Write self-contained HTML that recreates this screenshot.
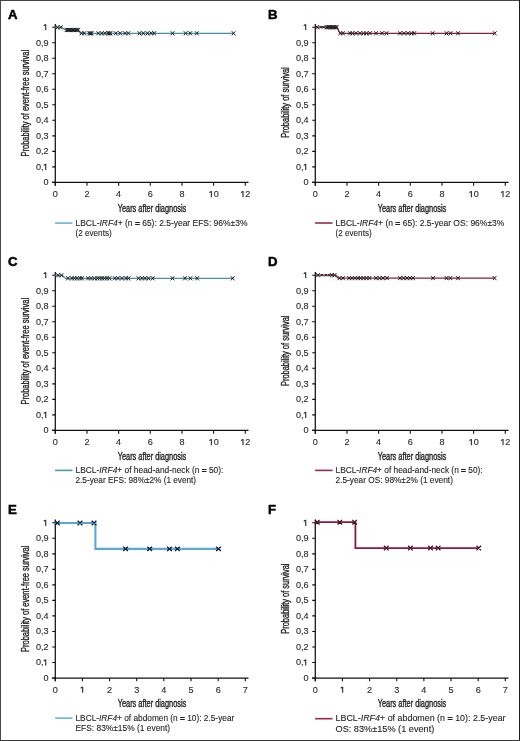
<!DOCTYPE html>
<html><head><meta charset="utf-8"><style>
html,body{margin:0;padding:0;background:#fff;}
body{width:520px;height:741px;overflow:hidden;}
svg{display:block;will-change:transform;font-family:"Liberation Sans", sans-serif;}
</style></head><body>
<svg width="520" height="741" viewBox="0 0 520 741">
<rect x="0" y="0" width="520" height="741" fill="#fff"/>
<path d="M0,0.5H520" stroke="#444" stroke-width="1"/>
<path d="M0.5,0V741" stroke="#4a4a4a" stroke-width="1"/>
<path d="M519.5,0V741" stroke="#1c1c1c" stroke-width="1"/>
<path d="M0,740.5H520" stroke="#383838" stroke-width="1"/>
<g transform="translate(0,0)">
<text x="8.1" y="18.6" font-size="13.2" font-weight="bold" fill="#000" stroke="#000" stroke-width="0.5">A</text>
<path d="M55.3,23.9V185.70000000000002M52,182.4H248.5" stroke="#111" stroke-width="1.25" fill="none"/>
<path d="M52.2,182.4H55.3M52.2,166.88H55.3M52.2,151.36H55.3M52.2,135.84H55.3M52.2,120.32H55.3M52.2,104.8H55.3M52.2,89.28H55.3M52.2,73.76H55.3M52.2,58.24H55.3M52.2,42.72H55.3M52.2,27.2H55.3M55.3,182.4V185.70000000000002M86.97,182.4V185.70000000000002M118.63,182.4V185.70000000000002M150.3,182.4V185.70000000000002M181.97,182.4V185.70000000000002M213.63,182.4V185.70000000000002M245.3,182.4V185.70000000000002" stroke="#111" stroke-width="1.1" fill="none"/>
<text x="48.6" y="185.4" font-size="9.1" text-anchor="end" fill="#2a2a2a" stroke="#2a2a2a" stroke-width="0.12">0</text>
<text x="35.95" y="169.88" font-size="9.1" fill="#2a2a2a" stroke="#2a2a2a" stroke-width="0.12">0</text>
<text x="41.01" y="169.88" font-size="9.1" fill="#2a2a2a" stroke="#2a2a2a" stroke-width="0.12">,</text>
<path d="M45.72,169.98V163.83M45.52,164.18L43.72,165.38" stroke="#2a2a2a" stroke-width="1.1" fill="none"/>
<text x="48.6" y="154.36" font-size="9.1" text-anchor="end" fill="#2a2a2a" stroke="#2a2a2a" stroke-width="0.12">0,2</text>
<text x="48.6" y="138.84" font-size="9.1" text-anchor="end" fill="#2a2a2a" stroke="#2a2a2a" stroke-width="0.12">0,3</text>
<text x="48.6" y="123.32" font-size="9.1" text-anchor="end" fill="#2a2a2a" stroke="#2a2a2a" stroke-width="0.12">0,4</text>
<text x="48.6" y="107.8" font-size="9.1" text-anchor="end" fill="#2a2a2a" stroke="#2a2a2a" stroke-width="0.12">0,5</text>
<text x="48.6" y="92.28" font-size="9.1" text-anchor="end" fill="#2a2a2a" stroke="#2a2a2a" stroke-width="0.12">0,6</text>
<text x="48.6" y="76.76" font-size="9.1" text-anchor="end" fill="#2a2a2a" stroke="#2a2a2a" stroke-width="0.12">0,7</text>
<text x="48.6" y="61.24" font-size="9.1" text-anchor="end" fill="#2a2a2a" stroke="#2a2a2a" stroke-width="0.12">0,8</text>
<text x="48.6" y="45.72" font-size="9.1" text-anchor="end" fill="#2a2a2a" stroke="#2a2a2a" stroke-width="0.12">0,9</text>
<path d="M45.72,30.3V24.15M45.52,24.5L43.72,25.7" stroke="#2a2a2a" stroke-width="1.1" fill="none"/>
<text x="55.3" y="197.1" font-size="9.1" text-anchor="middle" fill="#2a2a2a" stroke="#2a2a2a" stroke-width="0.12">0</text>
<text x="86.97" y="197.1" font-size="9.1" text-anchor="middle" fill="#2a2a2a" stroke="#2a2a2a" stroke-width="0.12">2</text>
<text x="118.63" y="197.1" font-size="9.1" text-anchor="middle" fill="#2a2a2a" stroke="#2a2a2a" stroke-width="0.12">4</text>
<text x="150.3" y="197.1" font-size="9.1" text-anchor="middle" fill="#2a2a2a" stroke="#2a2a2a" stroke-width="0.12">6</text>
<text x="181.97" y="197.1" font-size="9.1" text-anchor="middle" fill="#2a2a2a" stroke="#2a2a2a" stroke-width="0.12">8</text>
<path d="M211.35,197.2V191.05M211.15,191.4L209.35,192.6" stroke="#2a2a2a" stroke-width="1.1" fill="none"/>
<text x="213.63" y="197.1" font-size="9.1" fill="#2a2a2a" stroke="#2a2a2a" stroke-width="0.12">0</text>
<path d="M243.02,197.2V191.05M242.82,191.4L241.02,192.6" stroke="#2a2a2a" stroke-width="1.1" fill="none"/>
<text x="245.3" y="197.1" font-size="9.1" fill="#2a2a2a" stroke="#2a2a2a" stroke-width="0.12">2</text>
<text x="117.7" y="211.8" font-size="10.6" textLength="68.6" lengthAdjust="spacingAndGlyphs" fill="#222" stroke="#222" stroke-width="0.35">Years after diagnosis</text>
<text transform="translate(29.3,103.2) rotate(-90)" x="0" y="0" font-size="10.2" text-anchor="middle" textLength="106.5" lengthAdjust="spacingAndGlyphs" fill="#222" stroke="#222" stroke-width="0.35">Probability of event-free survival</text>
<path d="M55.3,27.3H61.6L65.5,30.0H78.5L80.3,33.3H233.6" stroke="#4590b0" stroke-width="1.2" fill="none" stroke-linejoin="miter"/>
<path d="M55.7,25.25L59.3,29.35M55.7,29.35L59.3,25.25M59,25.25L62.6,29.35M59,29.35L62.6,25.25M64.7,27.95L68.3,32.05M64.7,32.05L68.3,27.95M66,27.95L69.6,32.05M66,32.05L69.6,27.95M67.3,27.95L70.9,32.05M67.3,32.05L70.9,27.95M68.6,27.95L72.2,32.05M68.6,32.05L72.2,27.95M69.9,27.95L73.5,32.05M69.9,32.05L73.5,27.95M71.2,27.95L74.8,32.05M71.2,32.05L74.8,27.95M72.5,27.95L76.1,32.05M72.5,32.05L76.1,27.95M73.8,27.95L77.4,32.05M73.8,32.05L77.4,27.95M75.1,27.95L78.7,32.05M75.1,32.05L78.7,27.95M76.5,27.95L80.1,32.05M76.5,32.05L80.1,27.95M79.7,31.25L83.3,35.35M79.7,35.35L83.3,31.25M82.4,31.25L86,35.35M82.4,35.35L86,31.25M87.5,31.25L91.1,35.35M87.5,35.35L91.1,31.25M88.7,31.25L92.3,35.35M88.7,35.35L92.3,31.25M89.8,31.25L93.4,35.35M89.8,35.35L93.4,31.25M96.5,31.25L100.1,35.35M96.5,35.35L100.1,31.25M100,31.25L103.6,35.35M100,35.35L103.6,31.25M103.2,31.25L106.8,35.35M103.2,35.35L106.8,31.25M106.2,31.25L109.8,35.35M106.2,35.35L109.8,31.25M107.5,31.25L111.1,35.35M107.5,35.35L111.1,31.25M108.7,31.25L112.3,35.35M108.7,35.35L112.3,31.25M114,31.25L117.6,35.35M114,35.35L117.6,31.25M118.4,31.25L122,35.35M118.4,35.35L122,31.25M123.2,31.25L126.8,35.35M123.2,35.35L126.8,31.25M126.5,31.25L130.1,35.35M126.5,35.35L130.1,31.25M137.7,31.25L141.3,35.35M137.7,35.35L141.3,31.25M141.5,31.25L145.1,35.35M141.5,35.35L145.1,31.25M145.7,31.25L149.3,35.35M145.7,35.35L149.3,31.25M149.4,31.25L153,35.35M149.4,35.35L153,31.25M152.4,31.25L156,35.35M152.4,35.35L156,31.25M170.7,31.25L174.3,35.35M170.7,35.35L174.3,31.25M183.8,31.25L187.4,35.35M183.8,35.35L187.4,31.25M188.4,31.25L192,35.35M188.4,35.35L192,31.25M195,31.25L198.6,35.35M195,35.35L198.6,31.25M231.8,31.25L235.4,35.35M231.8,35.35L235.4,31.25" stroke="#1e1e1e" stroke-width="1.0" fill="none"/>
<path d="M55.1,223.1H72.5" stroke="#6cb2d8" stroke-width="1.6"/>
<text x="75.5" y="225.7" font-size="8.7" textLength="171.9" lengthAdjust="spacingAndGlyphs" fill="#222" stroke="#222" stroke-width="0.1">LBCL-<tspan font-style="italic">IRF4</tspan>+ (n <tspan stroke-width="0.55">=</tspan> 65): 2.5-year EFS: 96%±3%</text>
<text x="75.5" y="235.6" font-size="8.7" textLength="36.2" lengthAdjust="spacingAndGlyphs" fill="#222" stroke="#222" stroke-width="0.1">(2 events)</text>
</g>
<g transform="translate(260,0)">
<text x="8.1" y="18.6" font-size="13.2" font-weight="bold" fill="#000" stroke="#000" stroke-width="0.5">B</text>
<path d="M55.3,23.9V185.70000000000002M52,182.4H248.5" stroke="#111" stroke-width="1.25" fill="none"/>
<path d="M52.2,182.4H55.3M52.2,166.88H55.3M52.2,151.36H55.3M52.2,135.84H55.3M52.2,120.32H55.3M52.2,104.8H55.3M52.2,89.28H55.3M52.2,73.76H55.3M52.2,58.24H55.3M52.2,42.72H55.3M52.2,27.2H55.3M55.3,182.4V185.70000000000002M86.97,182.4V185.70000000000002M118.63,182.4V185.70000000000002M150.3,182.4V185.70000000000002M181.97,182.4V185.70000000000002M213.63,182.4V185.70000000000002M245.3,182.4V185.70000000000002" stroke="#111" stroke-width="1.1" fill="none"/>
<text x="48.6" y="185.4" font-size="9.1" text-anchor="end" fill="#2a2a2a" stroke="#2a2a2a" stroke-width="0.12">0</text>
<text x="35.95" y="169.88" font-size="9.1" fill="#2a2a2a" stroke="#2a2a2a" stroke-width="0.12">0</text>
<text x="41.01" y="169.88" font-size="9.1" fill="#2a2a2a" stroke="#2a2a2a" stroke-width="0.12">,</text>
<path d="M45.72,169.98V163.83M45.52,164.18L43.72,165.38" stroke="#2a2a2a" stroke-width="1.1" fill="none"/>
<text x="48.6" y="154.36" font-size="9.1" text-anchor="end" fill="#2a2a2a" stroke="#2a2a2a" stroke-width="0.12">0,2</text>
<text x="48.6" y="138.84" font-size="9.1" text-anchor="end" fill="#2a2a2a" stroke="#2a2a2a" stroke-width="0.12">0,3</text>
<text x="48.6" y="123.32" font-size="9.1" text-anchor="end" fill="#2a2a2a" stroke="#2a2a2a" stroke-width="0.12">0,4</text>
<text x="48.6" y="107.8" font-size="9.1" text-anchor="end" fill="#2a2a2a" stroke="#2a2a2a" stroke-width="0.12">0,5</text>
<text x="48.6" y="92.28" font-size="9.1" text-anchor="end" fill="#2a2a2a" stroke="#2a2a2a" stroke-width="0.12">0,6</text>
<text x="48.6" y="76.76" font-size="9.1" text-anchor="end" fill="#2a2a2a" stroke="#2a2a2a" stroke-width="0.12">0,7</text>
<text x="48.6" y="61.24" font-size="9.1" text-anchor="end" fill="#2a2a2a" stroke="#2a2a2a" stroke-width="0.12">0,8</text>
<text x="48.6" y="45.72" font-size="9.1" text-anchor="end" fill="#2a2a2a" stroke="#2a2a2a" stroke-width="0.12">0,9</text>
<path d="M45.72,30.3V24.15M45.52,24.5L43.72,25.7" stroke="#2a2a2a" stroke-width="1.1" fill="none"/>
<text x="55.3" y="197.1" font-size="9.1" text-anchor="middle" fill="#2a2a2a" stroke="#2a2a2a" stroke-width="0.12">0</text>
<text x="86.97" y="197.1" font-size="9.1" text-anchor="middle" fill="#2a2a2a" stroke="#2a2a2a" stroke-width="0.12">2</text>
<text x="118.63" y="197.1" font-size="9.1" text-anchor="middle" fill="#2a2a2a" stroke="#2a2a2a" stroke-width="0.12">4</text>
<text x="150.3" y="197.1" font-size="9.1" text-anchor="middle" fill="#2a2a2a" stroke="#2a2a2a" stroke-width="0.12">6</text>
<text x="181.97" y="197.1" font-size="9.1" text-anchor="middle" fill="#2a2a2a" stroke="#2a2a2a" stroke-width="0.12">8</text>
<path d="M211.35,197.2V191.05M211.15,191.4L209.35,192.6" stroke="#2a2a2a" stroke-width="1.1" fill="none"/>
<text x="213.63" y="197.1" font-size="9.1" fill="#2a2a2a" stroke="#2a2a2a" stroke-width="0.12">0</text>
<path d="M243.02,197.2V191.05M242.82,191.4L241.02,192.6" stroke="#2a2a2a" stroke-width="1.1" fill="none"/>
<text x="245.3" y="197.1" font-size="9.1" fill="#2a2a2a" stroke="#2a2a2a" stroke-width="0.12">2</text>
<text x="117.7" y="211.8" font-size="10.6" textLength="68.6" lengthAdjust="spacingAndGlyphs" fill="#222" stroke="#222" stroke-width="0.35">Years after diagnosis</text>
<text transform="translate(29.3,102.5) rotate(-90)" x="0" y="0" font-size="10.2" text-anchor="middle" textLength="70.5" lengthAdjust="spacingAndGlyphs" fill="#222" stroke="#222" stroke-width="0.35">Probability of survival</text>
<path d="M55.3,27.2H77L80,33.3H234.8" stroke="#8a1f3c" stroke-width="1.2" fill="none" stroke-linejoin="miter"/>
<path d="M55.4,25.15L59,29.25M55.4,29.25L59,25.15M59.72,25.97L61.88,28.43M59.72,28.43L61.88,25.97M62.42,25.97L64.58,28.43M62.42,28.43L64.58,25.97M64.7,25.15L68.3,29.25M64.7,29.25L68.3,25.15M66,25.15L69.6,29.25M66,29.25L69.6,25.15M67.3,25.15L70.9,29.25M67.3,29.25L70.9,25.15M68.6,25.15L72.2,29.25M68.6,29.25L72.2,25.15M69.9,25.15L73.5,29.25M69.9,29.25L73.5,25.15M71.2,25.15L74.8,29.25M71.2,29.25L74.8,25.15M72.5,25.15L76.1,29.25M72.5,29.25L76.1,25.15M73.8,25.15L77.4,29.25M73.8,29.25L77.4,25.15M74.8,25.15L78.4,29.25M74.8,29.25L78.4,25.15M78.5,31.25L82.1,35.35M78.5,35.35L82.1,31.25M81.2,31.25L84.8,35.35M81.2,35.35L84.8,31.25M88.2,31.25L91.8,35.35M88.2,35.35L91.8,31.25M90.7,31.25L94.3,35.35M90.7,35.35L94.3,31.25M94.2,31.25L97.8,35.35M94.2,35.35L97.8,31.25M98.2,31.25L101.8,35.35M98.2,35.35L101.8,31.25M101.7,31.25L105.3,35.35M101.7,35.35L105.3,31.25M104.7,31.25L108.3,35.35M104.7,35.35L108.3,31.25M108.2,31.25L111.8,35.35M108.2,35.35L111.8,31.25M114.2,31.25L117.8,35.35M114.2,35.35L117.8,31.25M120.2,31.25L123.8,35.35M120.2,35.35L123.8,31.25M124.7,31.25L128.3,35.35M124.7,35.35L128.3,31.25M138.2,31.25L141.8,35.35M138.2,35.35L141.8,31.25M142.2,31.25L145.8,35.35M142.2,35.35L145.8,31.25M146.2,31.25L149.8,35.35M146.2,35.35L149.8,31.25M149.7,31.25L153.3,35.35M149.7,35.35L153.3,31.25M152.4,31.25L156,35.35M152.4,35.35L156,31.25M170.9,31.25L174.5,35.35M170.9,35.35L174.5,31.25M184.7,31.25L188.3,35.35M184.7,35.35L188.3,31.25M188.8,31.25L192.4,35.35M188.8,35.35L192.4,31.25M196.2,31.25L199.8,35.35M196.2,35.35L199.8,31.25M233,31.25L236.6,35.35M233,35.35L236.6,31.25" stroke="#1e1e1e" stroke-width="1.0" fill="none"/>
<path d="M55.1,223.0H72.5" stroke="#9a2848" stroke-width="1.6"/>
<text x="75.5" y="225.8" font-size="8.7" textLength="168.9" lengthAdjust="spacingAndGlyphs" fill="#222" stroke="#222" stroke-width="0.1">LBCL-<tspan font-style="italic">IRF4</tspan>+ (n <tspan stroke-width="0.55">=</tspan> 65): 2.5-year OS: 96%±3%</text>
<text x="75.5" y="235.6" font-size="8.7" textLength="36.2" lengthAdjust="spacingAndGlyphs" fill="#222" stroke="#222" stroke-width="0.1">(2 events)</text>
</g>
<g transform="translate(0,248)">
<text x="8.1" y="17.9" font-size="13.2" font-weight="bold" fill="#000" stroke="#000" stroke-width="0.5">C</text>
<path d="M55.3,23.9V185.70000000000002M52,182.4H248.5" stroke="#111" stroke-width="1.25" fill="none"/>
<path d="M52.2,182.4H55.3M52.2,166.88H55.3M52.2,151.36H55.3M52.2,135.84H55.3M52.2,120.32H55.3M52.2,104.8H55.3M52.2,89.28H55.3M52.2,73.76H55.3M52.2,58.24H55.3M52.2,42.72H55.3M52.2,27.2H55.3M55.3,182.4V185.70000000000002M86.97,182.4V185.70000000000002M118.63,182.4V185.70000000000002M150.3,182.4V185.70000000000002M181.97,182.4V185.70000000000002M213.63,182.4V185.70000000000002M245.3,182.4V185.70000000000002" stroke="#111" stroke-width="1.1" fill="none"/>
<text x="48.6" y="185.4" font-size="9.1" text-anchor="end" fill="#2a2a2a" stroke="#2a2a2a" stroke-width="0.12">0</text>
<text x="35.95" y="169.88" font-size="9.1" fill="#2a2a2a" stroke="#2a2a2a" stroke-width="0.12">0</text>
<text x="41.01" y="169.88" font-size="9.1" fill="#2a2a2a" stroke="#2a2a2a" stroke-width="0.12">,</text>
<path d="M45.72,169.98V163.83M45.52,164.18L43.72,165.38" stroke="#2a2a2a" stroke-width="1.1" fill="none"/>
<text x="48.6" y="154.36" font-size="9.1" text-anchor="end" fill="#2a2a2a" stroke="#2a2a2a" stroke-width="0.12">0,2</text>
<text x="48.6" y="138.84" font-size="9.1" text-anchor="end" fill="#2a2a2a" stroke="#2a2a2a" stroke-width="0.12">0,3</text>
<text x="48.6" y="123.32" font-size="9.1" text-anchor="end" fill="#2a2a2a" stroke="#2a2a2a" stroke-width="0.12">0,4</text>
<text x="48.6" y="107.8" font-size="9.1" text-anchor="end" fill="#2a2a2a" stroke="#2a2a2a" stroke-width="0.12">0,5</text>
<text x="48.6" y="92.28" font-size="9.1" text-anchor="end" fill="#2a2a2a" stroke="#2a2a2a" stroke-width="0.12">0,6</text>
<text x="48.6" y="76.76" font-size="9.1" text-anchor="end" fill="#2a2a2a" stroke="#2a2a2a" stroke-width="0.12">0,7</text>
<text x="48.6" y="61.24" font-size="9.1" text-anchor="end" fill="#2a2a2a" stroke="#2a2a2a" stroke-width="0.12">0,8</text>
<text x="48.6" y="45.72" font-size="9.1" text-anchor="end" fill="#2a2a2a" stroke="#2a2a2a" stroke-width="0.12">0,9</text>
<path d="M45.72,30.3V24.15M45.52,24.5L43.72,25.7" stroke="#2a2a2a" stroke-width="1.1" fill="none"/>
<text x="55.3" y="197.1" font-size="9.1" text-anchor="middle" fill="#2a2a2a" stroke="#2a2a2a" stroke-width="0.12">0</text>
<text x="86.97" y="197.1" font-size="9.1" text-anchor="middle" fill="#2a2a2a" stroke="#2a2a2a" stroke-width="0.12">2</text>
<text x="118.63" y="197.1" font-size="9.1" text-anchor="middle" fill="#2a2a2a" stroke="#2a2a2a" stroke-width="0.12">4</text>
<text x="150.3" y="197.1" font-size="9.1" text-anchor="middle" fill="#2a2a2a" stroke="#2a2a2a" stroke-width="0.12">6</text>
<text x="181.97" y="197.1" font-size="9.1" text-anchor="middle" fill="#2a2a2a" stroke="#2a2a2a" stroke-width="0.12">8</text>
<path d="M211.35,197.2V191.05M211.15,191.4L209.35,192.6" stroke="#2a2a2a" stroke-width="1.1" fill="none"/>
<text x="213.63" y="197.1" font-size="9.1" fill="#2a2a2a" stroke="#2a2a2a" stroke-width="0.12">0</text>
<path d="M243.02,197.2V191.05M242.82,191.4L241.02,192.6" stroke="#2a2a2a" stroke-width="1.1" fill="none"/>
<text x="245.3" y="197.1" font-size="9.1" fill="#2a2a2a" stroke="#2a2a2a" stroke-width="0.12">2</text>
<text x="117.7" y="211.8" font-size="10.6" textLength="68.6" lengthAdjust="spacingAndGlyphs" fill="#222" stroke="#222" stroke-width="0.35">Years after diagnosis</text>
<text transform="translate(29.3,103.2) rotate(-90)" x="0" y="0" font-size="10.2" text-anchor="middle" textLength="106.5" lengthAdjust="spacingAndGlyphs" fill="#222" stroke="#222" stroke-width="0.35">Probability of event-free survival</text>
<path d="M55.3,27.3H62.5L65.5,30.3H232.7" stroke="#4590b0" stroke-width="1.2" fill="none" stroke-linejoin="miter"/>
<path d="M56.2,25.25L59.8,29.35M56.2,29.35L59.8,25.25M59.7,25.25L63.3,29.35M59.7,29.35L63.3,25.25M66.2,28.25L69.8,32.35M66.2,32.35L69.8,28.25M70.2,28.25L73.8,32.35M70.2,32.35L73.8,28.25M72.7,28.25L76.3,32.35M72.7,32.35L76.3,28.25M75.2,28.25L78.8,32.35M75.2,32.35L78.8,28.25M78.2,28.25L81.8,32.35M78.2,32.35L81.8,28.25M80.2,28.25L83.8,32.35M80.2,32.35L83.8,28.25M86.2,28.25L89.8,32.35M86.2,32.35L89.8,28.25M89.2,28.25L92.8,32.35M89.2,32.35L92.8,28.25M92.7,28.25L96.3,32.35M92.7,32.35L96.3,28.25M95.7,28.25L99.3,32.35M95.7,32.35L99.3,28.25M97.7,28.25L101.3,32.35M97.7,32.35L101.3,28.25M100.2,28.25L103.8,32.35M100.2,32.35L103.8,28.25M102.7,28.25L106.3,32.35M102.7,32.35L106.3,28.25M105.2,28.25L108.8,32.35M105.2,32.35L108.8,28.25M107.7,28.25L111.3,32.35M107.7,32.35L111.3,28.25M113,28.25L116.6,32.35M113,32.35L116.6,28.25M116.2,28.25L119.8,32.35M116.2,32.35L119.8,28.25M120.2,28.25L123.8,32.35M120.2,32.35L123.8,28.25M124.2,28.25L127.8,32.35M124.2,32.35L127.8,28.25M126.7,28.25L130.3,32.35M126.7,32.35L130.3,28.25M136.7,28.25L140.3,32.35M136.7,32.35L140.3,28.25M140.2,28.25L143.8,32.35M140.2,32.35L143.8,28.25M143.2,28.25L146.8,32.35M143.2,32.35L146.8,28.25M146.7,28.25L150.3,32.35M146.7,32.35L150.3,28.25M151,28.25L154.6,32.35M151,32.35L154.6,28.25M170.7,28.25L174.3,32.35M170.7,32.35L174.3,28.25M183.2,28.25L186.8,32.35M183.2,32.35L186.8,28.25M188.6,28.25L192.2,32.35M188.6,32.35L192.2,28.25M195.3,28.25L198.9,32.35M195.3,32.35L198.9,28.25M230.9,28.25L234.5,32.35M230.9,32.35L234.5,28.25" stroke="#1e1e1e" stroke-width="1.0" fill="none"/>
<path d="M55.1,222.4H72.5" stroke="#4a9cb2" stroke-width="1.6"/>
<text x="75.5" y="224.9" font-size="8.7" textLength="147.9" lengthAdjust="spacingAndGlyphs" fill="#222" stroke="#222" stroke-width="0.1">LBCL-<tspan font-style="italic">IRF4</tspan>+ of head-and-neck (n <tspan stroke-width="0.55">=</tspan> 50):</text>
<text x="75.5" y="235.2" font-size="8.7" textLength="120.6" lengthAdjust="spacingAndGlyphs" fill="#222" stroke="#222" stroke-width="0.1">2.5-year EFS: 98%±2% (1 event)</text>
</g>
<g transform="translate(260,248)">
<text x="8.1" y="17.9" font-size="13.2" font-weight="bold" fill="#000" stroke="#000" stroke-width="0.5">D</text>
<path d="M55.3,23.9V185.70000000000002M52,182.4H248.5" stroke="#111" stroke-width="1.25" fill="none"/>
<path d="M52.2,182.4H55.3M52.2,166.88H55.3M52.2,151.36H55.3M52.2,135.84H55.3M52.2,120.32H55.3M52.2,104.8H55.3M52.2,89.28H55.3M52.2,73.76H55.3M52.2,58.24H55.3M52.2,42.72H55.3M52.2,27.2H55.3M55.3,182.4V185.70000000000002M86.97,182.4V185.70000000000002M118.63,182.4V185.70000000000002M150.3,182.4V185.70000000000002M181.97,182.4V185.70000000000002M213.63,182.4V185.70000000000002M245.3,182.4V185.70000000000002" stroke="#111" stroke-width="1.1" fill="none"/>
<text x="48.6" y="185.4" font-size="9.1" text-anchor="end" fill="#2a2a2a" stroke="#2a2a2a" stroke-width="0.12">0</text>
<text x="35.95" y="169.88" font-size="9.1" fill="#2a2a2a" stroke="#2a2a2a" stroke-width="0.12">0</text>
<text x="41.01" y="169.88" font-size="9.1" fill="#2a2a2a" stroke="#2a2a2a" stroke-width="0.12">,</text>
<path d="M45.72,169.98V163.83M45.52,164.18L43.72,165.38" stroke="#2a2a2a" stroke-width="1.1" fill="none"/>
<text x="48.6" y="154.36" font-size="9.1" text-anchor="end" fill="#2a2a2a" stroke="#2a2a2a" stroke-width="0.12">0,2</text>
<text x="48.6" y="138.84" font-size="9.1" text-anchor="end" fill="#2a2a2a" stroke="#2a2a2a" stroke-width="0.12">0,3</text>
<text x="48.6" y="123.32" font-size="9.1" text-anchor="end" fill="#2a2a2a" stroke="#2a2a2a" stroke-width="0.12">0,4</text>
<text x="48.6" y="107.8" font-size="9.1" text-anchor="end" fill="#2a2a2a" stroke="#2a2a2a" stroke-width="0.12">0,5</text>
<text x="48.6" y="92.28" font-size="9.1" text-anchor="end" fill="#2a2a2a" stroke="#2a2a2a" stroke-width="0.12">0,6</text>
<text x="48.6" y="76.76" font-size="9.1" text-anchor="end" fill="#2a2a2a" stroke="#2a2a2a" stroke-width="0.12">0,7</text>
<text x="48.6" y="61.24" font-size="9.1" text-anchor="end" fill="#2a2a2a" stroke="#2a2a2a" stroke-width="0.12">0,8</text>
<text x="48.6" y="45.72" font-size="9.1" text-anchor="end" fill="#2a2a2a" stroke="#2a2a2a" stroke-width="0.12">0,9</text>
<path d="M45.72,30.3V24.15M45.52,24.5L43.72,25.7" stroke="#2a2a2a" stroke-width="1.1" fill="none"/>
<text x="55.3" y="197.1" font-size="9.1" text-anchor="middle" fill="#2a2a2a" stroke="#2a2a2a" stroke-width="0.12">0</text>
<text x="86.97" y="197.1" font-size="9.1" text-anchor="middle" fill="#2a2a2a" stroke="#2a2a2a" stroke-width="0.12">2</text>
<text x="118.63" y="197.1" font-size="9.1" text-anchor="middle" fill="#2a2a2a" stroke="#2a2a2a" stroke-width="0.12">4</text>
<text x="150.3" y="197.1" font-size="9.1" text-anchor="middle" fill="#2a2a2a" stroke="#2a2a2a" stroke-width="0.12">6</text>
<text x="181.97" y="197.1" font-size="9.1" text-anchor="middle" fill="#2a2a2a" stroke="#2a2a2a" stroke-width="0.12">8</text>
<path d="M211.35,197.2V191.05M211.15,191.4L209.35,192.6" stroke="#2a2a2a" stroke-width="1.1" fill="none"/>
<text x="213.63" y="197.1" font-size="9.1" fill="#2a2a2a" stroke="#2a2a2a" stroke-width="0.12">0</text>
<path d="M243.02,197.2V191.05M242.82,191.4L241.02,192.6" stroke="#2a2a2a" stroke-width="1.1" fill="none"/>
<text x="245.3" y="197.1" font-size="9.1" fill="#2a2a2a" stroke="#2a2a2a" stroke-width="0.12">2</text>
<text x="117.7" y="211.8" font-size="10.6" textLength="68.6" lengthAdjust="spacingAndGlyphs" fill="#222" stroke="#222" stroke-width="0.35">Years after diagnosis</text>
<text transform="translate(29.3,102.8) rotate(-90)" x="0" y="0" font-size="10.2" text-anchor="middle" textLength="70.5" lengthAdjust="spacingAndGlyphs" fill="#222" stroke="#222" stroke-width="0.35">Probability of survival</text>
<path d="M55.3,27.2H76L78,30.1H234.6" stroke="#8a1f3c" stroke-width="1.2" fill="none" stroke-linejoin="miter"/>
<path d="M56.2,25.15L59.8,29.25M56.2,29.25L59.8,25.15M60.72,25.97L62.88,28.43M60.72,28.43L62.88,25.97M64.72,25.97L66.88,28.43M64.72,28.43L66.88,25.97M68.22,25.97L70.38,28.43M68.22,28.43L70.38,25.97M70.2,25.15L73.8,29.25M70.2,29.25L73.8,25.15M72.7,25.15L76.3,29.25M72.7,29.25L76.3,25.15M77.7,28.05L81.3,32.15M77.7,32.15L81.3,28.05M81.2,28.05L84.8,32.15M81.2,32.15L84.8,28.05M87.2,28.05L90.8,32.15M87.2,32.15L90.8,28.05M90.2,28.05L93.8,32.15M90.2,32.15L93.8,28.05M93.2,28.05L96.8,32.15M93.2,32.15L96.8,28.05M96.2,28.05L99.8,32.15M96.2,32.15L99.8,28.05M98.7,28.05L102.3,32.15M98.7,32.15L102.3,28.05M101.7,28.05L105.3,32.15M101.7,32.15L105.3,28.05M104.7,28.05L108.3,32.15M104.7,32.15L108.3,28.05M107.7,28.05L111.3,32.15M107.7,32.15L111.3,28.05M114.2,28.05L117.8,32.15M114.2,32.15L117.8,28.05M117.7,28.05L121.3,32.15M117.7,32.15L121.3,28.05M121.2,28.05L124.8,32.15M121.2,32.15L124.8,28.05M125.2,28.05L128.8,32.15M125.2,32.15L128.8,28.05M138.2,28.05L141.8,32.15M138.2,32.15L141.8,28.05M141.7,28.05L145.3,32.15M141.7,32.15L145.3,28.05M145.2,28.05L148.8,32.15M145.2,32.15L148.8,28.05M148.2,28.05L151.8,32.15M148.2,32.15L151.8,28.05M151.2,28.05L154.8,32.15M151.2,32.15L154.8,28.05M171.2,28.05L174.8,32.15M171.2,32.15L174.8,28.05M184.7,28.05L188.3,32.15M184.7,32.15L188.3,28.05M188.6,28.05L192.2,32.15M188.6,32.15L192.2,28.05M196.2,28.05L199.8,32.15M196.2,32.15L199.8,28.05M232.8,28.05L236.4,32.15M232.8,32.15L236.4,28.05" stroke="#1e1e1e" stroke-width="1.0" fill="none"/>
<path d="M55.1,222.4H72.5" stroke="#9a2848" stroke-width="1.6"/>
<text x="75.5" y="224.9" font-size="8.7" textLength="147.1" lengthAdjust="spacingAndGlyphs" fill="#222" stroke="#222" stroke-width="0.1">LBCL-<tspan font-style="italic">IRF4</tspan>+ of head-and-neck (n <tspan stroke-width="0.55">=</tspan> 50):</text>
<text x="75.5" y="235.2" font-size="8.7" textLength="117.39999999999999" lengthAdjust="spacingAndGlyphs" fill="#222" stroke="#222" stroke-width="0.1">2.5-year OS: 98%±2% (1 event)</text>
</g>
<g transform="translate(0,495.6)">
<text x="8.1" y="18.6" font-size="13.2" font-weight="bold" fill="#000" stroke="#000" stroke-width="0.5">E</text>
<path d="M55.3,23.9V185.70000000000002M52,182.4H248.5" stroke="#111" stroke-width="1.25" fill="none"/>
<path d="M52.2,182.4H55.3M52.2,166.88H55.3M52.2,151.36H55.3M52.2,135.84H55.3M52.2,120.32H55.3M52.2,104.8H55.3M52.2,89.28H55.3M52.2,73.76H55.3M52.2,58.24H55.3M52.2,42.72H55.3M52.2,27.2H55.3M55.3,182.4V185.70000000000002M82.44,182.4V185.70000000000002M109.59,182.4V185.70000000000002M136.73,182.4V185.70000000000002M163.87,182.4V185.70000000000002M191.01,182.4V185.70000000000002M218.16,182.4V185.70000000000002M245.3,182.4V185.70000000000002" stroke="#111" stroke-width="1.1" fill="none"/>
<text x="48.6" y="185.4" font-size="9.1" text-anchor="end" fill="#2a2a2a" stroke="#2a2a2a" stroke-width="0.12">0</text>
<text x="35.95" y="169.88" font-size="9.1" fill="#2a2a2a" stroke="#2a2a2a" stroke-width="0.12">0</text>
<text x="41.01" y="169.88" font-size="9.1" fill="#2a2a2a" stroke="#2a2a2a" stroke-width="0.12">,</text>
<path d="M45.72,169.98V163.83M45.52,164.18L43.72,165.38" stroke="#2a2a2a" stroke-width="1.1" fill="none"/>
<text x="48.6" y="154.36" font-size="9.1" text-anchor="end" fill="#2a2a2a" stroke="#2a2a2a" stroke-width="0.12">0,2</text>
<text x="48.6" y="138.84" font-size="9.1" text-anchor="end" fill="#2a2a2a" stroke="#2a2a2a" stroke-width="0.12">0,3</text>
<text x="48.6" y="123.32" font-size="9.1" text-anchor="end" fill="#2a2a2a" stroke="#2a2a2a" stroke-width="0.12">0,4</text>
<text x="48.6" y="107.8" font-size="9.1" text-anchor="end" fill="#2a2a2a" stroke="#2a2a2a" stroke-width="0.12">0,5</text>
<text x="48.6" y="92.28" font-size="9.1" text-anchor="end" fill="#2a2a2a" stroke="#2a2a2a" stroke-width="0.12">0,6</text>
<text x="48.6" y="76.76" font-size="9.1" text-anchor="end" fill="#2a2a2a" stroke="#2a2a2a" stroke-width="0.12">0,7</text>
<text x="48.6" y="61.24" font-size="9.1" text-anchor="end" fill="#2a2a2a" stroke="#2a2a2a" stroke-width="0.12">0,8</text>
<text x="48.6" y="45.72" font-size="9.1" text-anchor="end" fill="#2a2a2a" stroke="#2a2a2a" stroke-width="0.12">0,9</text>
<path d="M45.72,30.3V24.15M45.52,24.5L43.72,25.7" stroke="#2a2a2a" stroke-width="1.1" fill="none"/>
<text x="55.3" y="197.1" font-size="9.1" text-anchor="middle" fill="#2a2a2a" stroke="#2a2a2a" stroke-width="0.12">0</text>
<path d="M82.69,197.2V191.05M82.49,191.4L80.69,192.6" stroke="#2a2a2a" stroke-width="1.1" fill="none"/>
<text x="109.59" y="197.1" font-size="9.1" text-anchor="middle" fill="#2a2a2a" stroke="#2a2a2a" stroke-width="0.12">2</text>
<text x="136.73" y="197.1" font-size="9.1" text-anchor="middle" fill="#2a2a2a" stroke="#2a2a2a" stroke-width="0.12">3</text>
<text x="163.87" y="197.1" font-size="9.1" text-anchor="middle" fill="#2a2a2a" stroke="#2a2a2a" stroke-width="0.12">4</text>
<text x="191.01" y="197.1" font-size="9.1" text-anchor="middle" fill="#2a2a2a" stroke="#2a2a2a" stroke-width="0.12">5</text>
<text x="218.16" y="197.1" font-size="9.1" text-anchor="middle" fill="#2a2a2a" stroke="#2a2a2a" stroke-width="0.12">6</text>
<text x="245.3" y="197.1" font-size="9.1" text-anchor="middle" fill="#2a2a2a" stroke="#2a2a2a" stroke-width="0.12">7</text>
<text x="117.7" y="211.8" font-size="10.6" textLength="68.6" lengthAdjust="spacingAndGlyphs" fill="#222" stroke="#222" stroke-width="0.35">Years after diagnosis</text>
<text transform="translate(29.3,103.2) rotate(-90)" x="0" y="0" font-size="10.2" text-anchor="middle" textLength="106.4" lengthAdjust="spacingAndGlyphs" fill="#222" stroke="#222" stroke-width="0.35">Probability of event-free survival</text>
<path d="M55.3,27.4H95.4V53.3H218.5" stroke="#5aa8da" stroke-width="2.1" fill="none" stroke-linejoin="miter"/>
<path d="M54.9,25.2L59.7,29.6M54.9,29.6L59.7,25.2M77.6,25.2L82.4,29.6M77.6,29.6L82.4,25.2M91.6,25.2L96.4,29.6M91.6,29.6L96.4,25.2M123.2,51.1L128,55.5M123.2,55.5L128,51.1M147.3,51.1L152.1,55.5M147.3,55.5L152.1,51.1M167.1,51.1L171.9,55.5M167.1,55.5L171.9,51.1M175,51.1L179.8,55.5M175,55.5L179.8,51.1M216.1,51.1L220.9,55.5M216.1,55.5L220.9,51.1" stroke="#0e1c34" stroke-width="1.3" fill="none"/>
<path d="M55.1,222.5H72.5" stroke="#6cb2d8" stroke-width="1.6"/>
<text x="75.5" y="225.2" font-size="8.7" textLength="158.8" lengthAdjust="spacingAndGlyphs" fill="#222" stroke="#222" stroke-width="0.1">LBCL-<tspan font-style="italic">IRF4</tspan>+ of abdomen (n <tspan stroke-width="0.55">=</tspan> 10): 2.5-year</text>
<text x="75.5" y="235.3" font-size="8.7" textLength="94.6" lengthAdjust="spacingAndGlyphs" fill="#222" stroke="#222" stroke-width="0.1">EFS: 83%±15% (1 event)</text>
</g>
<g transform="translate(260,495.6)">
<text x="8.1" y="18.6" font-size="13.2" font-weight="bold" fill="#000" stroke="#000" stroke-width="0.5">F</text>
<path d="M55.3,23.9V185.70000000000002M52,182.4H248.5" stroke="#111" stroke-width="1.25" fill="none"/>
<path d="M52.2,182.4H55.3M52.2,166.88H55.3M52.2,151.36H55.3M52.2,135.84H55.3M52.2,120.32H55.3M52.2,104.8H55.3M52.2,89.28H55.3M52.2,73.76H55.3M52.2,58.24H55.3M52.2,42.72H55.3M52.2,27.2H55.3M55.3,182.4V185.70000000000002M82.44,182.4V185.70000000000002M109.59,182.4V185.70000000000002M136.73,182.4V185.70000000000002M163.87,182.4V185.70000000000002M191.01,182.4V185.70000000000002M218.16,182.4V185.70000000000002M245.3,182.4V185.70000000000002" stroke="#111" stroke-width="1.1" fill="none"/>
<text x="48.6" y="185.4" font-size="9.1" text-anchor="end" fill="#2a2a2a" stroke="#2a2a2a" stroke-width="0.12">0</text>
<text x="35.95" y="169.88" font-size="9.1" fill="#2a2a2a" stroke="#2a2a2a" stroke-width="0.12">0</text>
<text x="41.01" y="169.88" font-size="9.1" fill="#2a2a2a" stroke="#2a2a2a" stroke-width="0.12">,</text>
<path d="M45.72,169.98V163.83M45.52,164.18L43.72,165.38" stroke="#2a2a2a" stroke-width="1.1" fill="none"/>
<text x="48.6" y="154.36" font-size="9.1" text-anchor="end" fill="#2a2a2a" stroke="#2a2a2a" stroke-width="0.12">0,2</text>
<text x="48.6" y="138.84" font-size="9.1" text-anchor="end" fill="#2a2a2a" stroke="#2a2a2a" stroke-width="0.12">0,3</text>
<text x="48.6" y="123.32" font-size="9.1" text-anchor="end" fill="#2a2a2a" stroke="#2a2a2a" stroke-width="0.12">0,4</text>
<text x="48.6" y="107.8" font-size="9.1" text-anchor="end" fill="#2a2a2a" stroke="#2a2a2a" stroke-width="0.12">0,5</text>
<text x="48.6" y="92.28" font-size="9.1" text-anchor="end" fill="#2a2a2a" stroke="#2a2a2a" stroke-width="0.12">0,6</text>
<text x="48.6" y="76.76" font-size="9.1" text-anchor="end" fill="#2a2a2a" stroke="#2a2a2a" stroke-width="0.12">0,7</text>
<text x="48.6" y="61.24" font-size="9.1" text-anchor="end" fill="#2a2a2a" stroke="#2a2a2a" stroke-width="0.12">0,8</text>
<text x="48.6" y="45.72" font-size="9.1" text-anchor="end" fill="#2a2a2a" stroke="#2a2a2a" stroke-width="0.12">0,9</text>
<path d="M45.72,30.3V24.15M45.52,24.5L43.72,25.7" stroke="#2a2a2a" stroke-width="1.1" fill="none"/>
<text x="55.3" y="197.1" font-size="9.1" text-anchor="middle" fill="#2a2a2a" stroke="#2a2a2a" stroke-width="0.12">0</text>
<path d="M82.69,197.2V191.05M82.49,191.4L80.69,192.6" stroke="#2a2a2a" stroke-width="1.1" fill="none"/>
<text x="109.59" y="197.1" font-size="9.1" text-anchor="middle" fill="#2a2a2a" stroke="#2a2a2a" stroke-width="0.12">2</text>
<text x="136.73" y="197.1" font-size="9.1" text-anchor="middle" fill="#2a2a2a" stroke="#2a2a2a" stroke-width="0.12">3</text>
<text x="163.87" y="197.1" font-size="9.1" text-anchor="middle" fill="#2a2a2a" stroke="#2a2a2a" stroke-width="0.12">4</text>
<text x="191.01" y="197.1" font-size="9.1" text-anchor="middle" fill="#2a2a2a" stroke="#2a2a2a" stroke-width="0.12">5</text>
<text x="218.16" y="197.1" font-size="9.1" text-anchor="middle" fill="#2a2a2a" stroke="#2a2a2a" stroke-width="0.12">6</text>
<text x="245.3" y="197.1" font-size="9.1" text-anchor="middle" fill="#2a2a2a" stroke="#2a2a2a" stroke-width="0.12">7</text>
<text x="117.7" y="211.8" font-size="10.6" textLength="68.6" lengthAdjust="spacingAndGlyphs" fill="#222" stroke="#222" stroke-width="0.35">Years after diagnosis</text>
<text transform="translate(29.3,103) rotate(-90)" x="0" y="0" font-size="10.2" text-anchor="middle" textLength="70.2" lengthAdjust="spacingAndGlyphs" fill="#222" stroke="#222" stroke-width="0.35">Probability of survival</text>
<path d="M55.3,26.6H95.4V52.5H218.8" stroke="#8c1a3c" stroke-width="1.8" fill="none" stroke-linejoin="miter"/>
<path d="M55,24.3L59.6,28.9M55,28.9L59.6,24.3M77.5,24.3L82.1,28.9M77.5,28.9L82.1,24.3M92.3,24.3L96.9,28.9M92.3,28.9L96.9,24.3M123.9,50.2L128.5,54.8M123.9,54.8L128.5,50.2M148.1,50.2L152.7,54.8M148.1,54.8L152.7,50.2M168.2,50.2L172.8,54.8M168.2,54.8L172.8,50.2M175.8,50.2L180.4,54.8M175.8,54.8L180.4,50.2M216.5,50.2L221.1,54.8M216.5,54.8L221.1,50.2" stroke="#3a1820" stroke-width="1.3" fill="none"/>
<path d="M55.1,223.1H72.5" stroke="#9a2848" stroke-width="1.6"/>
<text x="75.5" y="225.9" font-size="9.3" textLength="170.1" lengthAdjust="spacingAndGlyphs" fill="#222" stroke="#222" stroke-width="0.1">LBCL-<tspan font-style="italic">IRF4</tspan>+ of abdomen (n <tspan stroke-width="0.55">=</tspan> 10): 2.5-year</text>
<text x="75.5" y="236.6" font-size="9.3" textLength="98.8" lengthAdjust="spacingAndGlyphs" fill="#222" stroke="#222" stroke-width="0.1">OS: 83%±15% (1 event)</text>
</g>
</svg>
</body></html>
